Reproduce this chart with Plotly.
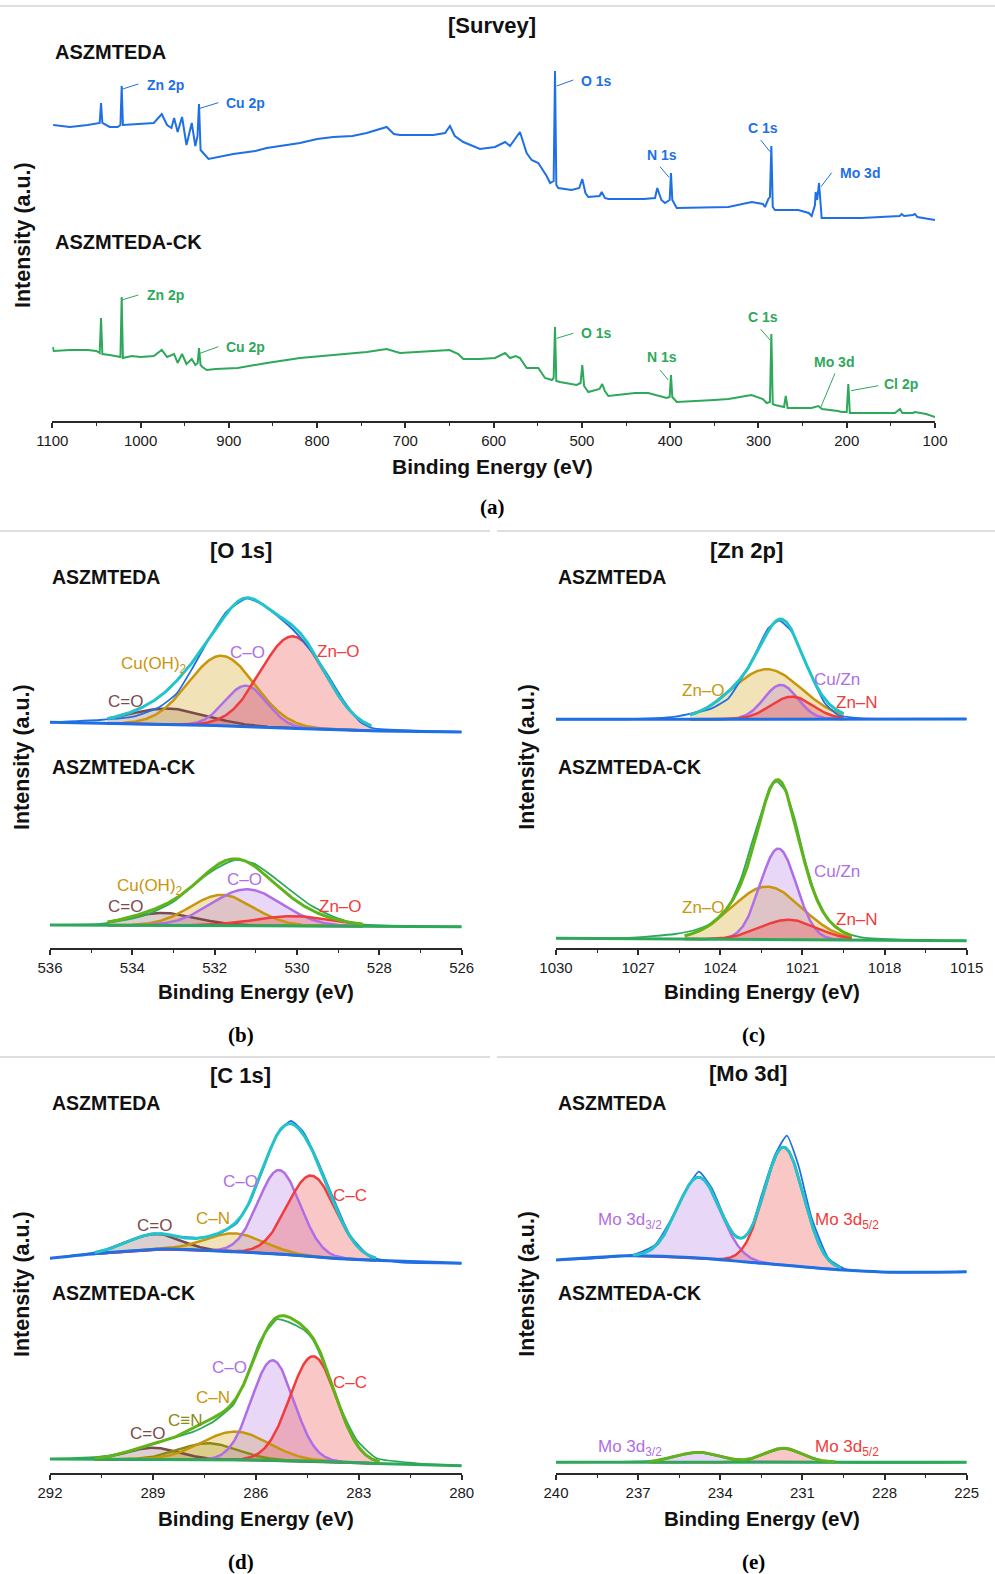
import numpy as np
import plotly.graph_objects as go

W, H = 995, 1574

# ======================= DATA =======================
# (a) Survey spectra: (binding energy eV, intensity a.u.)
survey_asz = [(1099, 296), (1080, 294), (1060, 296), (1050, 297), (1046.3, 298), (1044.8, 318), (1043.3, 298),
              (1035, 294), (1026, 294), (1022.8, 296), (1021.4, 335), (1020, 296), (1000, 297), (985, 298),
              (976, 307), (970, 296), (965, 293), (962, 303), (958, 289), (953, 304), (948, 276), (942, 298),
              (938, 275), (935.5, 285), (933.8, 317), (932, 271), (927, 266), (923, 262), (894.9, 267), (870, 270),
              (857, 273), (819.4, 278), (800, 282), (781.6, 284), (760, 285), (743.8, 288), (721.2, 294), (713, 287),
              (706.1, 286), (668.3, 286), (655, 288), (649.5, 295), (644, 285), (634.4, 279), (615.5, 272),
              (598.5, 274), (587, 279), (581.5, 275), (570.2, 289), (562.6, 268), (557, 261), (549.4, 258),
              (540, 245), (536, 238), (532, 240), (530.5, 350), (529, 236), (526.8, 233), (511.7, 231), (503, 233),
              (499.6, 242), (496, 228), (492.8, 224), (480, 225), (477.6, 229), (474, 223), (470.1, 222), (430, 222),
              (417.2, 223), (414.6, 233), (410, 221), (405.9, 218), (400.6, 221), (399.1, 248), (397.6, 221),
              (392.6, 213), (334.1, 214), (307.6, 219), (295, 217), (292.6, 214), (288.8, 222), (287, 224),
              (285.4, 275), (283.8, 214), (281.3, 211), (254.9, 211), (243, 208), (239.7, 205), (236, 216),
              (235.2, 229), (233.5, 221), (231.4, 238), (229.5, 216), (228.4, 203), (183.1, 203), (140, 205),
              (137.8, 207), (135, 205), (125, 206), (122.7, 207), (120, 204), (100, 201)]
survey_ck = [(1099.5, 74), (1098.5, 70), (1080, 71), (1060, 71), (1050, 70), (1046.3, 68), (1044.8, 103),
             (1043.3, 67), (1035, 66), (1026, 65), (1022.8, 64), (1021.4, 124), (1020, 63), (1010, 65),
             (1000, 64), (985, 65), (976, 71), (970, 64), (962, 67), (958, 58), (953, 67), (948, 57), (942, 62),
             (938, 56), (935.3, 58), (933.8, 73), (932, 56), (930, 54), (925, 51), (915, 52), (890, 53),
             (857, 58), (819.4, 63), (781.6, 66), (743.8, 69), (721.2, 72), (706.1, 68), (668.3, 70), (650, 71),
             (640, 67), (634.4, 62), (615.5, 62), (598.5, 63), (587, 68), (581.5, 63), (575, 65), (570.2, 63),
             (562.6, 53), (549.4, 53), (541.8, 43), (534, 41), (532, 43), (530.5, 94), (529, 40), (524.9, 39),
             (506, 36), (501.5, 38), (499.6, 56), (497.5, 35), (492.8, 29), (480, 32), (477, 37), (474, 30),
             (470, 25), (440, 28), (424.8, 28), (410, 24), (404, 23), (400.6, 24), (399.1, 46), (397.6, 24),
             (392.6, 19), (350, 21), (334, 22), (308, 26), (295, 22), (290.7, 18), (287, 19), (285.4, 87),
             (283.8, 17), (281.3, 16), (275, 15), (271, 14), (269.1, 25), (267, 13), (264, 13), (240, 13),
             (232.2, 15), (228, 12), (210, 10), (205.7, 9), (200, 9), (198.2, 37), (196.5, 8), (180, 8),
             (160, 8), (145.3, 8), (139.7, 12), (137, 8), (125, 8), (122.7, 9), (110, 7), (100, 4)]

# (b) O 1s
o1s_asz_data = [(536, 226.0), (534.79, 228.3), (533.98, 231.6), (533.33, 241.6), (532.92, 255.0), (532.52, 281.6),
                (532.11, 311.6), (531.71, 336.6), (531.22, 350.0), (530.82, 343.3), (530.41, 330.0), (530.09, 318.3),
                (529.68, 298.3), (529.28, 275.0), (528.88, 248.3), (528.47, 226.6), (528.15, 220.0),
                (527.09, 217.6), (526, 216.3)]
o1s_asz_bg = [(536, 226.0), (532, 222.8), (530, 219.8), (528, 217.3), (526, 216.3)]
o1s_asz_names = ["C=O", "Cu(OH)2", "C–O", "Zn–O"]
o1s_asz_center = [533.13, 531.83, 531.24, 530.10]
o1s_asz_height = [16, 70, 41, 92]
o1s_asz_fwhm = [2.2, 1.9, 1.2, 1.85]
o1s_asz_range = [534.6, 528.2]

o1s_ck_data = [(536, 23.3), (534.79, 24.3), (533.98, 30.0), (533.57, 35.0), (533.0, 46.6), (532.36, 68.3),
               (531.95, 80.0), (531.51, 88.3), (531.06, 85.0), (530.58, 71.6), (530.17, 58.3), (529.68, 43.3),
               (529.12, 31.6), (528.55, 24.3), (527.5, 22.3), (526, 21.6)]
o1s_ck_bg = [(536, 23.3), (531, 22.5), (526, 21.6)]
o1s_ck_names = ["C=O", "Cu(OH)2", "C–O", "Zn–O"]
o1s_ck_center = [533.25, 531.83, 531.22, 530.09]
o1s_ck_height = [12.5, 30.8, 36.5, 9.8]
o1s_ck_fwhm = [1.9, 1.8, 2.0, 2.2]
o1s_ck_range = [534.6, 528.4]

# (c) Zn 2p
zn_asz_data = [(1030, 229.0), (1027.36, 229.0), (1025.65, 231.6), (1024.92, 235.6), (1024.31, 240.0),
               (1023.7, 250.0), (1023.22, 270.0), (1022.73, 294.0), (1022.25, 320.0), (1021.84, 327.6),
               (1021.39, 316.6), (1021.03, 295.0), (1020.66, 271.6), (1020.18, 245.0), (1019.69, 233.3),
               (1018.84, 230.0), (1015, 229.3)]
zn_asz_bg = [(1030, 229.0), (1015, 229.2)]
zn_asz_names = ["Zn–O", "Cu/Zn", "Zn–N"]
zn_asz_center = [1022.30, 1021.79, 1021.39]
zn_asz_height = [50, 34.3, 22.6]
zn_asz_fwhm = [3.0, 1.45, 1.8]
zn_asz_range = [1025.1, 1019.5]

zn_ck_data = [(1030, 10.0), (1027.36, 10.3), (1025.65, 14.3), (1024.92, 18.3), (1024.31, 25.0), (1023.7, 41.6),
              (1023.22, 71.6), (1022.85, 105.0), (1022.49, 136.0), (1022.18, 161.6), (1021.94, 166.6),
              (1021.64, 158.3), (1021.27, 128.3), (1020.91, 88.3), (1020.54, 55.0), (1020.05, 28.3),
              (1019.44, 15.6), (1018.84, 11.0), (1016.4, 7.6), (1015, 7.6)]
zn_ck_bg = [(1030, 10.0), (1015, 7.6)]
zn_ck_names = ["Zn–O", "Cu/Zn", "Zn–N"]
zn_ck_center = [1022.30, 1021.88, 1021.51]
zn_ck_height = [53, 91, 20]
zn_ck_fwhm = [3.0, 1.55, 2.4]
zn_ck_range = [1025.3, 1019.2]

# (d) C 1s
c1s_asz_data = [(292, 215.0), (290.54, 221.6), (289.76, 231.6), (288.99, 240.0), (288.21, 236.6), (287.63, 235.6),
                (287.05, 240.0), (286.56, 250.0), (286.17, 271.6), (285.78, 305.0), (285.39, 338.3),
                (284.98, 352.3), (284.62, 341.6), (284.23, 315.0), (283.74, 275.0), (283.26, 238.3),
                (282.67, 216.6), (281.8, 211.0), (280, 210.0)]
c1s_asz_bg = [(292, 215.0), (290.54, 220.0), (288.6, 224.3), (286.66, 221.6), (285.2, 219.0), (283.74, 215.0),
              (282.77, 213.3), (280, 210.0)]
c1s_asz_names = ["C=O", "C–N", "C–O", "C–C"]
c1s_asz_center = [288.99, 286.61, 285.32, 284.38]
c1s_asz_height = [15.7, 18.4, 84, 81]
c1s_asz_fwhm = [1.8, 2.0, 1.45, 1.65]
c1s_asz_range = [290.7, 282.5]

c1s_ck_data = [(292, 14.3), (290.54, 16.6), (289.57, 23.3), (288.6, 33.3), (287.82, 41.6), (287.24, 51.6),
               (286.66, 68.3), (286.27, 96.6), (285.88, 132.0), (285.39, 154.0), (285.1, 152.0), (284.81, 147.5),
               (284.55, 142.0), (284.33, 133.3), (283.94, 103.3), (283.55, 66.6), (283.06, 33.3), (282.48, 15.0),
               (281.31, 10.0), (280, 7.6)]
c1s_ck_bg = [(292, 14.3), (289, 13.8), (286, 13.3), (284, 11.8), (282.5, 9.8), (280, 7.6)]
c1s_ck_names = ["C=O", "C≡N", "C–N", "C–O", "C–C"]
c1s_ck_center = [288.99, 287.39, 286.61, 285.51, 284.33]
c1s_ck_height = [11.7, 16.5, 28.3, 100, 105]
c1s_ck_fwhm = [1.8, 2.0, 2.3, 1.45, 1.6]
c1s_ck_range = [290.7, 282.4]

# (e) Mo 3d
mo_asz_data = [(240, 213.3), (238.58, 215.0), (237.11, 219.0), (236.38, 228.3), (235.77, 255.0), (235.29, 281.6),
               (234.78, 301.6), (234.31, 285.0), (233.83, 255.0), (233.46, 238.0), (233.22, 235.3),
               (232.91, 242.0), (232.49, 278.3), (232.0, 318.3), (231.57, 337.6), (231.15, 308.3),
               (230.66, 255.0), (230.05, 215.0), (229.44, 204.3), (227.62, 201.0), (225, 201.6)]
mo_asz_bg = [(240, 213.3), (237.36, 217.6), (234.92, 215.6), (232.49, 210.0), (230.05, 204.3), (227.62, 201.0),
             (225, 201.6)]
mo_asz_names = ["Mo 3d3/2", "Mo 3d5/2"]
mo_asz_center = [234.78, 231.68]
mo_asz_height = [80.8, 118]
mo_asz_fwhm = [1.85, 1.7]
mo_asz_range = [237.2, 229.6]

mo_ck_data = [(240, 11.0), (236.38, 12.6), (235.65, 17.3), (234.8, 21.0), (233.95, 16.6), (233.22, 12.3),
              (232.49, 18.3), (231.7, 25.0), (230.91, 18.3), (230.18, 11.6), (225, 11.0)]
mo_ck_bg = [(240, 11.0), (225, 11.0)]
mo_ck_names = ["Mo 3d3/2", "Mo 3d5/2"]
mo_ck_center = [234.80, 231.70]
mo_ck_height = [10, 14]
mo_ck_fwhm = [1.9, 1.6]
mo_ck_range = [236.6, 229.8]

# ======================= STYLE =======================
BLUE = "#1f6fe5"
GREEN = "#2ea85a"
CYAN = "#22c3c9"
LIME = "#5fb41a"
BROWN, GOLD, VIOLET, RED, OLIVE = "#7b4b4b", "#c8960c", "#b06ee6", "#f03c3c", "#8a8a12"
FILL = {BROWN: "rgba(140,95,95,0.30)", GOLD: "rgba(215,175,50,0.35)", VIOLET: "rgba(185,130,230,0.32)",
        RED: "rgba(240,70,70,0.30)", OLIVE: "rgba(150,150,30,0.30)"}
o1s_colors = [BROWN, GOLD, VIOLET, RED]
zn_colors = [GOLD, VIOLET, RED]
c1s_asz_colors = [BROWN, GOLD, VIOLET, RED]
c1s_ck_colors = [BROWN, OLIVE, GOLD, VIOLET, RED]
mo_colors = [VIOLET, RED]


def X(px):
    return px / W


def Y(py):
    return 1 - py / H


fig = go.Figure()


def add_survey(pairs, color):
    e, i = zip(*pairs)
    fig.add_trace(go.Scatter(x=e, y=i, mode="lines", line=dict(color=color, width=2),
                             xaxis="x", yaxis="y", hoverinfo="skip"))


def add_hr(data, bg, colors, centers, heights, fwhms, frange, ax, dcol, ecol):
    xa, ya = "x%d" % ax, "y%d" % ax
    bgE, bgI = map(np.array, zip(*bg))
    order = np.argsort(bgE)
    bgE, bgI = bgE[order], bgI[order]
    grid = np.linspace(min(frange), max(frange), 400)
    base = np.interp(grid, bgE, bgI)
    comps = []
    for col, c, h, w in zip(colors, centers, heights, fwhms):
        g = h * np.exp(-4 * np.log(2) * (grid - c) ** 2 / w ** 2)
        comps.append(g)
        fig.add_trace(go.Scatter(x=np.r_[grid, grid[::-1]], y=np.r_[base + g, base[::-1]], fill="toself",
                                 fillcolor=FILL[col], line=dict(width=0), mode="lines",
                                 xaxis=xa, yaxis=ya, hoverinfo="skip"))
    for col, g in zip(colors, comps):
        fig.add_trace(go.Scatter(x=grid, y=base + g, mode="lines", line=dict(color=col, width=2.5),
                                 xaxis=xa, yaxis=ya, hoverinfo="skip"))
    fig.add_trace(go.Scatter(x=bgE, y=bgI, mode="lines", line=dict(color=dcol, width=3, shape="spline", smoothing=0.6),
                             xaxis=xa, yaxis=ya, hoverinfo="skip"))
    dE, dI = zip(*data)
    fig.add_trace(go.Scatter(x=dE, y=dI, mode="lines", line=dict(color=dcol, width=1.8, shape="spline", smoothing=0.5),
                             xaxis=xa, yaxis=ya, hoverinfo="skip"))
    fig.add_trace(go.Scatter(x=grid, y=base + np.sum(comps, axis=0), mode="lines", line=dict(color=ecol, width=3),
                             xaxis=xa, yaxis=ya, hoverinfo="skip"))


add_survey(survey_asz, BLUE)
add_survey(survey_ck, GREEN)

add_hr(o1s_asz_data, o1s_asz_bg, o1s_colors, o1s_asz_center, o1s_asz_height, o1s_asz_fwhm, o1s_asz_range, 2, BLUE, CYAN)
add_hr(o1s_ck_data, o1s_ck_bg, o1s_colors, o1s_ck_center, o1s_ck_height, o1s_ck_fwhm, o1s_ck_range, 2, GREEN, LIME)
add_hr(zn_asz_data, zn_asz_bg, zn_colors, zn_asz_center, zn_asz_height, zn_asz_fwhm, zn_asz_range, 3, BLUE, CYAN)
add_hr(zn_ck_data, zn_ck_bg, zn_colors, zn_ck_center, zn_ck_height, zn_ck_fwhm, zn_ck_range, 3, GREEN, LIME)
add_hr(c1s_asz_data, c1s_asz_bg, c1s_asz_colors, c1s_asz_center, c1s_asz_height, c1s_asz_fwhm, c1s_asz_range, 4, BLUE, CYAN)
add_hr(c1s_ck_data, c1s_ck_bg, c1s_ck_colors, c1s_ck_center, c1s_ck_height, c1s_ck_fwhm, c1s_ck_range, 4, GREEN, LIME)
add_hr(mo_asz_data, mo_asz_bg, mo_colors, mo_asz_center, mo_asz_height, mo_asz_fwhm, mo_asz_range, 5, BLUE, CYAN)
add_hr(mo_ck_data, mo_ck_bg, mo_colors, mo_ck_center, mo_ck_height, mo_ck_fwhm, mo_ck_range, 5, GREEN, LIME)

# ======================= AXES =======================
AX = "#2a2a2a"


def xcfg(px0, px1, rng, dtick, tick0, mdtick, anchor):
    return dict(domain=[X(px0), X(px1)], range=rng, anchor=anchor, showline=True, linecolor=AX, linewidth=1.6,
                ticks="outside", ticklen=5, tickwidth=1.5, tickcolor=AX, dtick=dtick, tick0=tick0,
                tickfont=dict(family="Arial", size=15, color="#1a1a1a"), showgrid=False, zeroline=False,
                automargin=False,
                minor=dict(dtick=mdtick, tick0=tick0, ticks="outside", ticklen=3, tickwidth=1.3,
                           tickcolor=AX, showgrid=False),
                fixedrange=True)


def ycfg(py_bot, py_top):
    return dict(domain=[Y(py_bot), Y(py_top)], range=[0, py_bot - py_top], visible=False,
                showgrid=False, zeroline=False, fixedrange=True, automargin=False)


layout = dict(width=W, height=H, margin=dict(l=0, r=0, t=0, b=0, pad=0, autoexpand=False),
              paper_bgcolor="white", plot_bgcolor="white", showlegend=False)
layout["xaxis"] = xcfg(52.3, 935, [1100, 100], 100, 0, 50, "y")
layout["yaxis"] = ycfg(421, 40)
layout["xaxis2"] = xcfg(50, 461.7, [536, 526], 2, 0, 1, "y2")
layout["yaxis2"] = ycfg(948.3, 560)
layout["xaxis3"] = xcfg(556, 966.7, [1030, 1015], 3, 1015, 1.5, "y3")
layout["yaxis3"] = ycfg(948.3, 560)
layout["xaxis4"] = xcfg(50, 461.7, [292, 280], 3, 280, 1.5, "y4")
layout["yaxis4"] = ycfg(1473.3, 1085)
layout["xaxis5"] = xcfg(556, 966.7, [240, 225], 3, 225, 1.5, "y5")
layout["yaxis5"] = ycfg(1473.3, 1085)
fig.update_layout(**layout)

# ======================= TEXT =======================
ann = []


def txt(s, px, py, size, color="#111111", family="Arial", xanchor="center", angle=0):
    ann.append(dict(text=s, x=X(px), y=Y(py), xref="paper", yref="paper", showarrow=False,
                    xanchor=xanchor, yanchor="middle", textangle=angle,
                    font=dict(family=family, size=size, color=color)))


# titles
for s, px, py in [("[Survey]", 491.5, 25), ("[O 1s]", 240.8, 550), ("[Zn 2p]", 746.7, 550),
                  ("[C 1s]", 240.8, 1075), ("[Mo 3d]", 747.5, 1073.3)]:
    txt("<b>%s</b>" % s, px, py, 22)
# sample names
txt("<b>ASZMTEDA</b>", 53, 52, 20, xanchor="left")
txt("<b>ASZMTEDA-CK</b>", 53, 242, 20, xanchor="left")
for px, y1, y2 in [(50, 576.7, 767.3), (556, 576.7, 767.3), (50, 1103.3, 1293.3), (556, 1103.3, 1293.3)]:
    txt("<b>ASZMTEDA</b>", px, y1, 19.5, xanchor="left")
    txt("<b>ASZMTEDA-CK</b>", px, y2, 19.5, xanchor="left")
# axis titles
txt("<b>Binding Energy (eV)</b>", 492, 466, 21)
for px, py in [(255.8, 991.7), (761.7, 991.7), (255.8, 1518.3), (761.7, 1518.3)]:
    txt("<b>Binding Energy (eV)</b>", px, py, 20.5)
for px, py in [(23, 235), (22, 757), (526.7, 757), (22, 1284), (526.7, 1284)]:
    txt("<b>Intensity (a.u.)</b>", px, py, 21.5, angle=-90)
# panel letters
for s, px, py in [("(a)", 492, 507), ("(b)", 241, 1035), ("(c)", 753.3, 1035), ("(d)", 241, 1561.7),
                  ("(e)", 753, 1561.7)]:
    txt("<b>%s</b>" % s, px, py, 21, family="Times New Roman, Liberation Serif, serif", color="#000000")

# survey peak labels
for s, px, py in [("Zn 2p", 145, 85), ("Cu 2p", 224, 103), ("O 1s", 579, 80.7), ("N 1s", 645, 155),
                  ("C 1s", 745.7, 128), ("Mo 3d", 837.7, 172.7)]:
    txt("<b>%s</b>" % s, px, py, 14, color=BLUE, xanchor="left")
for s, px, py in [("Zn 2p", 145, 295), ("Cu 2p", 224, 346.7), ("O 1s", 579, 333.3), ("N 1s", 645, 357.3),
                  ("C 1s", 745.7, 317.3), ("Mo 3d", 811.7, 361.7), ("Cl 2p", 881.7, 384.3)]:
    txt("<b>%s</b>" % s, px, py, 14, color=GREEN, xanchor="left")


# component labels
def lab(s, col, px, py):
    txt(s, px, py, 17, color=col)


CU = "Cu(OH)<sub>2</sub>"
M32 = "Mo 3d<sub>3/2</sub>"
M52 = "Mo 3d<sub>5/2</sub>"
lab("C=O", BROWN, 125.8, 701.7); lab(CU, GOLD, 153.8, 665); lab("C–O", VIOLET, 247.8, 652.7); lab("Zn–O", RED, 338, 651.7)
lab("C=O", BROWN, 125.8, 906); lab(CU, GOLD, 149.5, 887); lab("C–O", VIOLET, 244.5, 879.3); lab("Zn–O", RED, 340.5, 906.7)
lab("Zn–O", GOLD, 703, 690.7); lab("Cu/Zn", VIOLET, 837, 679.3); lab("Zn–N", RED, 857, 702.7)
lab("Zn–O", GOLD, 703, 907.3); lab("Cu/Zn", VIOLET, 837, 871.7); lab("Zn–N", RED, 857, 919.3)
lab("C–O", VIOLET, 240.3, 1181.7); lab("C–C", RED, 349.7, 1195); lab("C–N", GOLD, 212.7, 1218.3); lab("C=O", BROWN, 154, 1225)
lab("C–O", VIOLET, 229.7, 1367.7); lab("C–C", RED, 349.7, 1382.7); lab("C–N", GOLD, 212.7, 1397.3)
lab("C≡N", OLIVE, 185, 1420); lab("C=O", BROWN, 147, 1433.3)
lab(M32, VIOLET, 630, 1221); lab(M52, RED, 846.5, 1221)
lab(M32, VIOLET, 630, 1448); lab(M52, RED, 846.5, 1448)

fig.update_layout(annotations=ann)

# ======================= SHAPES =======================
shapes = []


def seg(x0, y0, x1, y1, color, width):
    shapes.append(dict(type="line", xref="paper", yref="paper", x0=X(x0), y0=Y(y0), x1=X(x1), y1=Y(y1),
                       line=dict(color=color, width=width)))


SEP = "#dedede"
seg(0, 6, 995, 6, SEP, 2)
seg(0, 531, 490, 531, SEP, 2); seg(497, 531, 995, 531, SEP, 2)
seg(0, 1057, 490, 1057, SEP, 2); seg(497, 1057, 995, 1057, SEP, 2)

for a in [(121.7, 89.3, 138.3, 84), (200, 108.3, 218.3, 102.7), (556.7, 86, 573.3, 80), (660, 166.7, 669, 177.3),
          (760.7, 140, 770, 151.7), (831.7, 172.7, 821, 186.7)]:
    seg(*a, BLUE, 1)
for a in [(121.7, 300, 138.3, 295), (200, 353.3, 218.3, 346.7), (556.7, 338.3, 573.3, 333.3), (660, 370, 668.3, 380),
          (760.7, 329.3, 770, 340), (835, 373.3, 821, 406.7), (878.3, 385.7, 851, 390.7)]:
    seg(*a, GREEN, 1)

fig.update_layout(shapes=shapes)

fig.write_html("out.html")
